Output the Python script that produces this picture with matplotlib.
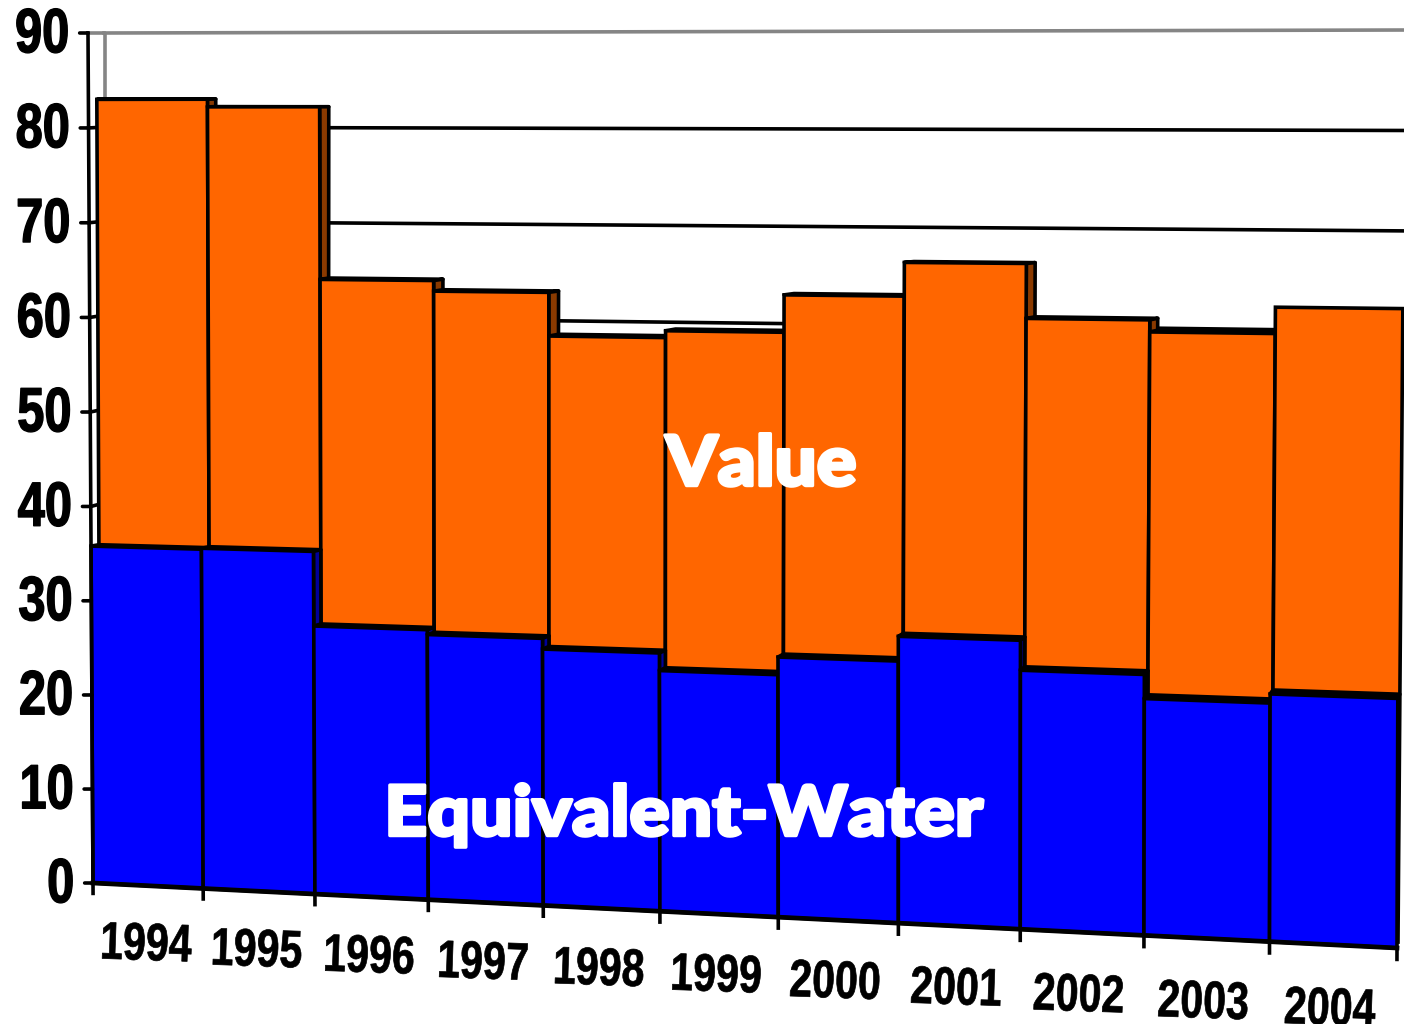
import numpy as np
import matplotlib
matplotlib.use("Agg")
import matplotlib.pyplot as plt
from matplotlib.patches import Polygon
from matplotlib.patheffects import AbstractPathEffect
from matplotlib.transforms import Affine2D, Transform

# ---- data ----
years = [1994, 1995, 1996, 1997, 1998, 1999, 2000, 2001, 2002, 2003, 2004]
equivalent_water = [35.8, 35.9, 28.1, 27.6, 26.5, 24.7, 26.5, 29.0, 26.0, 23.6, 24.5]
value = [83.0, 82.2, 64.2, 63.1, 58.6, 59.3, 63.1, 66.5, 61.0, 59.8, 62.4]
y_ticks = [0, 10, 20, 30, 40, 50, 60, 70, 80, 90]

ORANGE, ORANGE_SIDE = "#FF6600", "#8A3A00"
BLUE, BLUE_SIDE = "#0000FF", "#000099"
GREY = "#858585"
LW = 2.6
NARROW = ["Liberation Sans", "DejaVu Sans"]
n = len(years)


class Perspective(Transform):
    """Projective map of the (category, value) plane onto the picture."""
    input_dims = output_dims = 2
    is_separable = False
    has_inverse = False

    def __init__(self, p00, pn0, p0t, pnt):
        super().__init__()
        src = [(0, 0), (n, 0), (0, 90), (n, 90)]
        dst = [p00, pn0, p0t, pnt]
        A, b = [], []
        for (x, y), (u, v) in zip(src, dst):
            A.append([x, y, 1, 0, 0, 0, -u * x, -u * y]); b.append(u)
            A.append([0, 0, 0, x, y, 1, -v * x, -v * y]); b.append(v)
        self.m = np.append(np.linalg.solve(np.array(A, float), np.array(b, float)), 1).reshape(3, 3)

    def transform_non_affine(self, values):
        pts = np.asarray(values, float)
        h = np.c_[pts, np.ones(len(pts))] @ self.m.T
        return h[:, :2] / h[:, 2:3]


class Squeeze(AbstractPathEffect):
    """Draws a text condensed or widened sideways, with a thickening outline."""

    def __init__(self, sx, stroke=0.0, anchor=0.5):
        self.sx, self.stroke, self.anchor = sx, stroke, anchor

    def draw_path(self, renderer, gc, tpath, affine, rgbFace=None):
        ext = tpath.get_extents()
        cx = ext.x0 + self.anchor * ext.width
        aff = Affine2D().translate(-cx, 0).scale(self.sx, 1).translate(cx, 0) + affine
        gc0 = renderer.new_gc()
        gc0.copy_properties(gc)
        gc0.set_linewidth(self.stroke)
        gc0.set_foreground(rgbFace)
        renderer.draw_path(gc0, tpath, aff, rgbFace)
        gc0.restore()


fig = plt.figure(figsize=(14.04, 10.24), dpi=100)
ax = fig.add_axes([0, 0, 1, 1])
ax.set_axis_off()

# three depth planes: front row, rear row, back wall
front = Perspective((93, 883), (1397, 948), (88, 33), (1400, 27))
rear = Perspective((100.5, 880), (1398, 942), (96.5, 33), (1405, 26))
wall = Perspective((104, 878), (1405, 932), (104, 33), (1409, 30))
T_front, T_rear, T_wall = front + ax.transData, rear + ax.transData, wall + ax.transData


def quad(a, b, pts_a, pts_b, color, z):
    """Face joining two planes, from the points given on each of them."""
    verts = np.vstack([a.transform(np.array(pts_a, float)), b.transform(np.array(pts_b, float))[::-1]])
    ax.add_patch(Polygon(verts, closed=True, facecolor=color, edgecolor="black",
                         linewidth=LW, joinstyle="round", zorder=z))


# back wall and gridlines (those below 60 only show as a stub left of the bars)
ax.plot([105, 105], [33, 99], color=GREY, lw=LW, zorder=1, solid_capstyle="butt")
for t in y_ticks[1:]:
    col = GREY if t == 90 else "black"
    left = front.transform(np.array([[0.0, t]]))[0]
    if t >= 60:
        ax.plot([0, n], [t, t], transform=T_wall, color=col, lw=LW, zorder=1)
    start = wall.transform(np.array([[0.0, t]]))[0]
    ax.plot([left[0], start[0]], [left[1], start[1]], color=col, lw=LW, zorder=1)

# rear row
for i, v in enumerate(value):
    z = 2 + i * 0.01
    if i < n - 1:
        quad(rear, wall, [(i, v), (i + 1, v)], [(i, v), (i + 1, v)], "black", z)
        quad(rear, wall, [(i + 1, 0), (i + 1, v)], [(i + 1, 0), (i + 1, v)], ORANGE_SIDE, z)
    ax.bar([i], [v], width=1.0, align="edge", color=ORANGE, edgecolor="black", linewidth=LW,
           transform=T_rear, zorder=z + 0.005)

# front row
for i, v in enumerate(equivalent_water):
    z = 3 + i * 0.01
    quad(front, rear, [(i, v), (i + 1, v)], [(i, v), (i + 1, v)], "black", z)
    if i < n - 1:
        quad(front, rear, [(i + 1, 0), (i + 1, v)], [(i + 1, 0), (i + 1, v)], BLUE_SIDE, z)
    ax.bar([i], [v], width=1.0, align="edge", color=BLUE, edgecolor="black", linewidth=LW,
           transform=T_front, zorder=z + 0.005)

# axes
ax.plot([0, 0], [0, 90], transform=T_front, color="black", lw=LW, zorder=4)
ax.plot([0, n], [0, 0], transform=T_front, color="black", lw=3.4, zorder=4)
for i in range(n + 1):
    ax.plot([i, i], [0, -1.3], transform=T_front, color="black", lw=LW, zorder=4, solid_capstyle="butt")
for t in y_ticks:
    ax.annotate("", xy=(0, t), xycoords=T_front, xytext=(-6, 0), textcoords="offset points",
                arrowprops=dict(arrowstyle="-", lw=LW, color="black", shrinkA=0, shrinkB=0), zorder=4)
    ax.annotate(str(t), xy=(0, t), xycoords=T_front, xytext=(-13, -2), textcoords="offset points",
                ha="right", va="center", fontsize=45, fontweight="bold", family=NARROW, color="black",
                path_effects=[Squeeze(0.78, 1.0, anchor=1.0)])

for i, y in enumerate(years):
    ax.text(i + 0.47, -7.9, str(y), transform=T_front, ha="center", va="baseline", rotation=-2,
            rotation_mode="anchor", fontsize=38, fontweight="bold", family=NARROW, color="black",
            path_effects=[Squeeze(0.78, 0.5)])

# series names
ax.text(761, 466, "Value", ha="center", va="center", fontsize=50, fontweight="black",
        family=["Lato", "DejaVu Sans"], color="white", zorder=6, path_effects=[Squeeze(1.07, 2.5)])
ax.text(684, 816, "Equivalent-Water", ha="center", va="center", fontsize=50, fontweight="black",
        family=["Lato", "DejaVu Sans"], color="white", zorder=6, path_effects=[Squeeze(1.08, 2.5)])

ax.set_xlim(0, 1404)
ax.set_ylim(1024, 0)
fig.savefig("out.png", dpi=100)
